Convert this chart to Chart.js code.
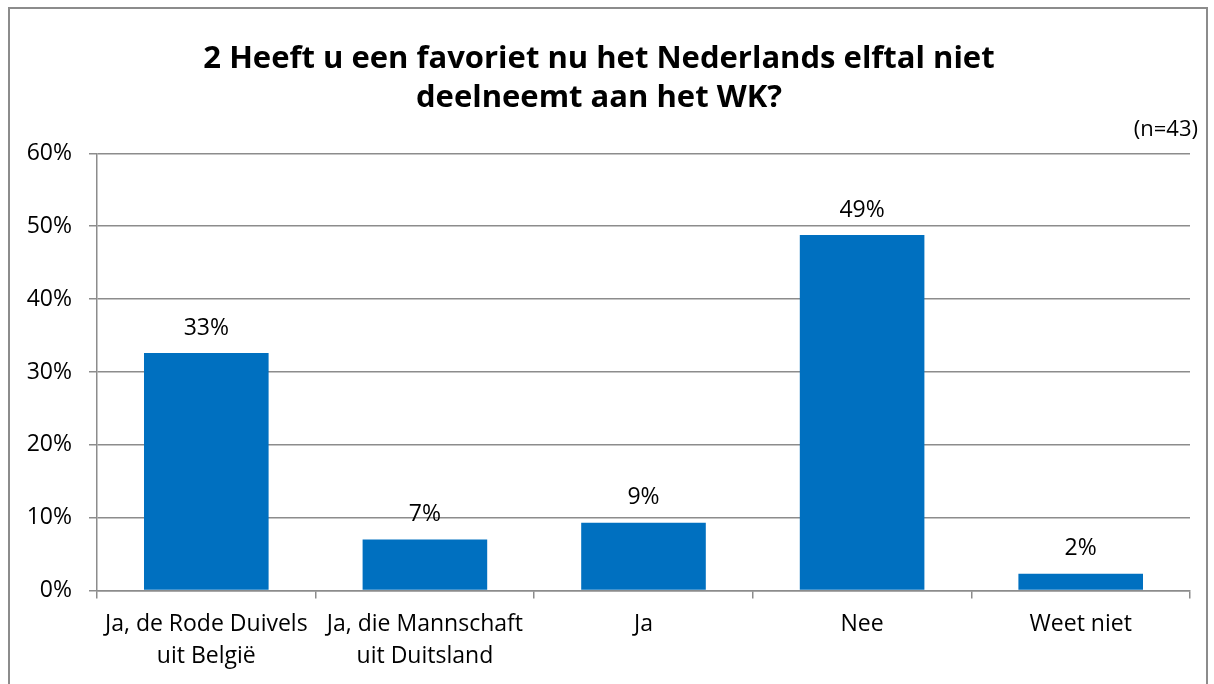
<!DOCTYPE html>
<html>
<head>
<meta charset="utf-8">
<script src="https://cdn.jsdelivr.net/npm/chart.js@4.4.1/dist/chart.umd.min.js"></script>
<style>
  html, body { margin: 0; padding: 0; background: #fff; }
  #wrap { position: relative; width: 1214px; height: 684px; }
  #frame { position: absolute; left: 8px; top: 7px; width: 1196px; height: 700px; border: 2px solid #8c8c8c; pointer-events: none; }
  canvas { position: absolute; left: 0; top: 0; }
</style>
</head>
<body>
<div id="wrap">
  <canvas id="chart" width="1214" height="684"></canvas>
  <div id="frame"></div>
</div>
<script>
// Survey question 2, share of respondents per answer
const categories = [
  ['Ja, de Rode Duivels', 'uit België'],
  ['Ja, die Mannschaft', 'uit Duitsland'],
  'Ja',
  'Nee',
  'Weet niet',
];
const values = [32.6, 7.0, 9.3, 48.8, 2.3];
const yTicks = [0, 10, 20, 30, 40, 50, 60];

const FONT = "'Open Sans', Lato, sans-serif";
const GRID = '#8c8c8c';
const BAR = '#0070c0';

// value labels above each bar
const barLabels = {
  id: 'barLabels',
  afterDatasetsDraw(chart) {
    const { ctx } = chart;
    const meta = chart.getDatasetMeta(0);
    ctx.save();
    ctx.font = `23px ${FONT}`;
    ctx.fillStyle = '#000';
    ctx.textAlign = 'center';
    ctx.textBaseline = 'middle';
    meta.data.forEach((bar, i) => {
      ctx.fillText(Math.round(values[i]) + '%', bar.x, bar.y - 25);
    });
    ctx.restore();
  },
};

new Chart(document.getElementById('chart'), {
  type: 'bar',
  data: {
    labels: categories,
    datasets: [{
      data: values,
      backgroundColor: BAR,
      borderWidth: 0,
      categoryPercentage: 1,
      barPercentage: 0.57,
    }],
  },
  options: {
    responsive: false,
    animation: false,
    layout: { padding: { left: 0, right: 16, top: 0, bottom: 1 } },
    plugins: {
      legend: { display: false },
      tooltip: { enabled: false },
      title: {
        display: true,
        text: ['2 Heeft u een favoriet nu het Nederlands elftal niet', 'deelneemt aan het WK?'],
        color: '#000',
        font: { family: FONT, size: 31, weight: 'bold', lineHeight: 1.28 },
        padding: { top: 39, bottom: 0 },
      },
      subtitle: {
        display: true,
        text: '(n=43)',
        align: 'end',
        color: '#000',
        font: { family: FONT, size: 22, lineHeight: 1.0 },
        padding: { top: 0, bottom: 13 },
      },
    },
    scales: {
      x: {
        grid: { display: true, drawOnChartArea: false, color: GRID, tickLength: 8, lineWidth: 1.5, offset: true },
        border: { color: GRID, width: 1.5 },
        ticks: { color: '#000', font: { family: FONT, size: 23, lineHeight: 1.4 }, padding: 10, maxRotation: 0, autoSkip: false },
      },
      y: {
        min: 0,
        max: 60,
        afterBuildTicks: scale => { scale.ticks = yTicks.map(v => ({ value: v })); },
        afterFit: scale => { scale.width = 97; },
        grid: { color: GRID, tickLength: 8, lineWidth: 1.5 },
        border: { color: GRID, width: 1.5 },
        ticks: { color: '#000', font: { family: FONT, size: 23 }, padding: 17, callback: v => v + '%' },
      },
      // empty right-hand spacer so the plot stops short of the (n=43) note
      spacer: {
        position: 'right',
        afterFit: scale => { scale.width = 8; },
        grid: { display: false },
        border: { display: false },
        ticks: { display: false },
      },
    },
  },
  plugins: [barLabels],
});
</script>
</body>
</html>
